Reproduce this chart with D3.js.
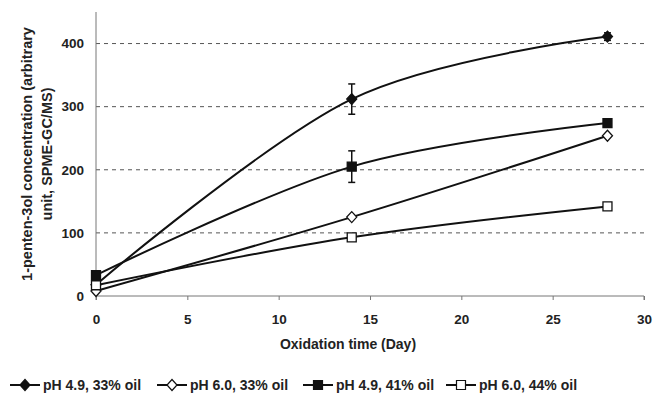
<!DOCTYPE html>
<html>
  <head>
    <meta charset="utf-8">
    <title>1-penten-3ol concentration</title>
    <style>
    body { margin: 0; background: #fff; }
    text { font-family: "Liberation Sans", Arial, sans-serif; }
    .tick text { font-size: 13.5px; font-weight: bold; fill: #222; }
    .axis path, .axis line { stroke: #777; }
    .grid line { stroke: #555; stroke-dasharray: 4,4; }
    </style>
  </head>
  <body>
    <svg width="653" height="393"></svg>
    <script src="https://d3js.org/d3.v7.min.js"></script>
    <script>

      // values
      var days = [0, 14, 28];
      var seriesNames = ["pH 4.9, 33% oil", "pH 6.0, 33% oil", "pH 4.9, 41% oil", "pH 6.0, 44% oil"];
      var ph49oil33 = [18, 312, 411];
      var ph60oil33 = [8, 125, 254];
      var ph49oil41 = [33, 205, 274];
      var ph60oil44 = [17, 93, 142];
      var errPh49oil33 = [0, 24, 6];
      var errPh49oil41 = [0, 25, 0];
      var xTicks = [0, 5, 10, 15, 20, 25, 30];
      var yTicks = [0, 100, 200, 300, 400];

      var svg = d3.select("svg"),
          margin = {top: 12, right: 9, bottom: 97, left: 96},
          width = +svg.attr("width") - margin.left - margin.right,
          height = +svg.attr("height") - margin.top - margin.bottom;

      var x = d3.scaleLinear().domain([0, 30]).range([0, width]),
          y = d3.scaleLinear().domain([0, 450]).range([height, 0]);

      var g = svg.append("g")
          .attr("transform", "translate(" + margin.left + "," + margin.top + ")");

      g.append("g")
          .attr("class", "grid")
        .selectAll("line")
        .data(yTicks.slice(1))
        .enter().append("line")
          .attr("x1", 0)
          .attr("x2", width)
          .attr("y1", function(d) { return y(d); })
          .attr("y2", function(d) { return y(d); });

      g.append("g")
          .attr("class", "axis axis--x")
          .attr("transform", "translate(0," + height + ")")
          .call(d3.axisBottom(x).tickValues(xTicks).tickSize(4).tickPadding(14))
          .call(function(a) { a.select(".domain").attr("d", "M0,4V0H" + width + "V4"); });

      g.append("g")
          .attr("class", "axis axis--y")
          .call(d3.axisLeft(y).tickValues(yTicks).tickSize(0).tickPadding(12))
          .call(function(a) { a.select(".domain").attr("d", "M0," + height + "V0"); });

      svg.append("text")
          .attr("transform", "translate(348,349)")
          .attr("text-anchor", "middle")
          .style("font-size", "14px")
          .style("font-weight", "bold")
          .attr("fill", "#222")
          .text("Oxidation time (Day)");

      var ylab = svg.append("text")
          .attr("transform", "translate(0,154) rotate(-90)")
          .attr("text-anchor", "middle")
          .style("font-size", "14.5px")
          .style("font-weight", "bold")
          .attr("fill", "#222");
      ylab.append("tspan").attr("x", 0).attr("y", 32).text("1-penten-3ol concentration (arbitrary");
      ylab.append("tspan").attr("x", 0).attr("y", 52).text("unit, SPME-GC/MS)");

      var series = [
        {name: seriesNames[0], values: ph49oil33, err: errPh49oil33, shape: "diamond", fill: "#111"},
        {name: seriesNames[1], values: ph60oil33, err: null, shape: "diamond", fill: "#fff"},
        {name: seriesNames[2], values: ph49oil41, err: errPh49oil41, shape: "square", fill: "#111"},
        {name: seriesNames[3], values: ph60oil44, err: null, shape: "square", fill: "#fff"}
      ];

      var line = d3.line()
          .x(function(d) { return x(d[0]); })
          .y(function(d) { return y(d[1]); })
          .curve(d3.curveCatmullRom.alpha(0));

      function markerPath(shape) {
        if (shape === "diamond") return "M0,-5.5L5,0L0,5.5L-5,0Z";
        return "M-4.5,-4.5H4.5V4.5H-4.5Z";
      }

      series.forEach(function(s) {
        var pts = days.map(function(d, i) { return [d, s.values[i]]; });
        g.append("path")
            .datum(pts)
            .attr("fill", "none")
            .attr("stroke", "#111")
            .attr("stroke-width", 2)
            .attr("d", line);

        if (s.err) {
          var eb = g.append("g").selectAll("g")
              .data(pts.map(function(p, i) { return [p[0], p[1], s.err[i]]; }).filter(function(p) { return p[2] > 0; }))
              .enter().append("g")
              .attr("stroke", "#111")
              .attr("stroke-width", 1.5);
          eb.append("line")
              .attr("x1", function(d) { return x(d[0]); })
              .attr("x2", function(d) { return x(d[0]); })
              .attr("y1", function(d) { return y(d[1] - d[2]); })
              .attr("y2", function(d) { return y(d[1] + d[2]); });
          eb.append("line")
              .attr("x1", function(d) { return x(d[0]) - 3.5; })
              .attr("x2", function(d) { return x(d[0]) + 3.5; })
              .attr("y1", function(d) { return y(d[1] - d[2]); })
              .attr("y2", function(d) { return y(d[1] - d[2]); });
          eb.append("line")
              .attr("x1", function(d) { return x(d[0]) - 3.5; })
              .attr("x2", function(d) { return x(d[0]) + 3.5; })
              .attr("y1", function(d) { return y(d[1] + d[2]); })
              .attr("y2", function(d) { return y(d[1] + d[2]); });
        }

        g.append("g").selectAll("path")
            .data(pts)
            .enter().append("path")
            .attr("transform", function(d) { return "translate(" + x(d[0]) + "," + y(d[1]) + ")"; })
            .attr("d", markerPath(s.shape))
            .attr("fill", s.fill)
            .attr("stroke", "#111")
            .attr("stroke-width", 1.3);
      });

      // legend
      var legendX = [10, 157, 303, 446];
      var legend = svg.append("g")
          .attr("transform", "translate(0,385)");
      var item = legend.selectAll("g")
          .data(series)
          .enter().append("g")
          .attr("transform", function(d, i) { return "translate(" + legendX[i] + ",0)"; });
      item.append("line")
          .attr("x1", 0).attr("x2", 30)
          .attr("stroke", "#111")
          .attr("stroke-width", 2);
      item.append("path")
          .attr("transform", "translate(15,0)")
          .attr("d", function(d) { return markerPath(d.shape); })
          .attr("fill", function(d) { return d.fill; })
          .attr("stroke", "#111")
          .attr("stroke-width", 1.2);
      item.append("text")
          .attr("x", 33)
          .attr("dy", "0.36em")
          .style("font-size", "14px")
          .style("font-weight", "bold")
          .attr("fill", "#222")
          .text(function(d) { return d.name; });
    </script>
  </body>
</html>
